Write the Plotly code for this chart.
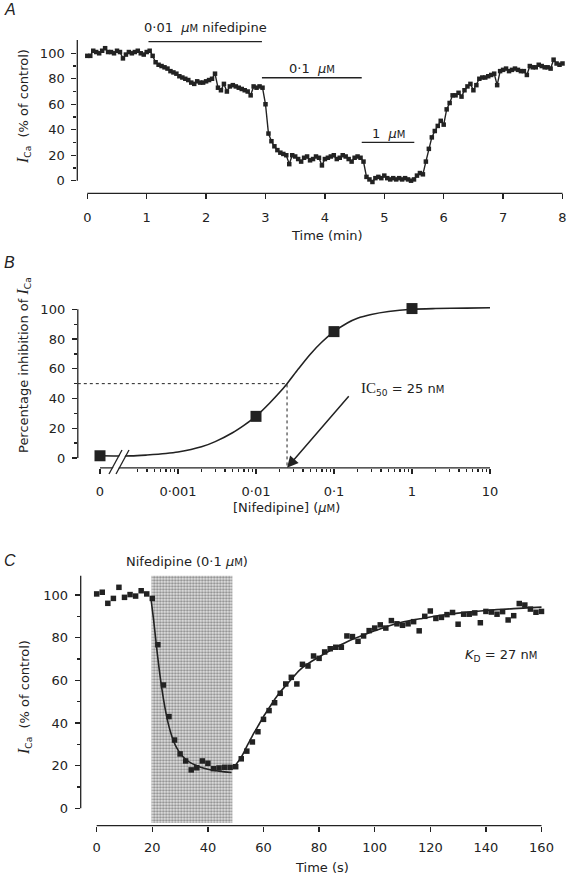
import math
import plotly.graph_objects as go

W, H = 567, 876
INK = "#222222"
FONT = "DejaVu Sans"
SMALLM = "<span style='font-size:10px'>M</span>"
MU = "<i>µ</i>" + SMALLM

# ---------------- Panel A data ----------------
a_time = [
    0.00, 0.05, 0.10, 0.15, 0.20, 0.25, 0.30, 0.35, 0.40, 0.45, 0.50, 0.55, 0.60, 0.65, 0.70, 0.75, 0.80, 0.85, 0.90, 0.95,
    1.00, 1.05, 1.10, 1.15, 1.20, 1.25, 1.30, 1.35, 1.40, 1.45, 1.50, 1.55, 1.60, 1.65, 1.70, 1.75, 1.80, 1.85, 1.90, 1.95,
    2.00, 2.05, 2.10, 2.15, 2.20, 2.25, 2.30, 2.35, 2.40, 2.45, 2.50, 2.55, 2.60, 2.65, 2.70, 2.75, 2.80, 2.85, 2.90, 2.95,
    3.00, 3.05, 3.10, 3.15, 3.20, 3.25, 3.30, 3.35, 3.40, 3.45, 3.50, 3.55, 3.60, 3.65, 3.70, 3.75, 3.80, 3.85, 3.90, 3.95,
    4.00, 4.05, 4.10, 4.15, 4.20, 4.25, 4.30, 4.35, 4.40, 4.45, 4.50, 4.55, 4.60, 4.65, 4.70, 4.75, 4.80, 4.85, 4.90, 4.95,
    5.00, 5.05, 5.10, 5.15, 5.20, 5.25, 5.30, 5.35, 5.40, 5.45, 5.50, 5.55, 5.60, 5.65, 5.70, 5.75, 5.80, 5.85, 5.90, 5.95,
    6.00, 6.05, 6.10, 6.15, 6.20, 6.25, 6.30, 6.35, 6.40, 6.45, 6.50, 6.55, 6.60, 6.65, 6.70, 6.75, 6.80, 6.85, 6.90, 6.95,
    7.00, 7.05, 7.10, 7.15, 7.20, 7.25, 7.30, 7.35, 7.40, 7.45, 7.50, 7.55, 7.60, 7.65, 7.70, 7.75, 7.80, 7.85, 7.90, 7.95,
    8.00,
]
a_ica = [
    98, 98, 102, 101, 100, 102, 104, 101, 101, 100, 102, 101, 96, 99, 101, 100, 101, 102, 100, 99,
    101, 102, 98, 93, 91, 90, 89, 88, 86, 85, 84, 82, 81, 80, 79, 77, 76, 78, 77, 77,
    78, 79, 80, 84, 73, 71, 76, 70, 74, 75, 74, 73, 72, 71, 70, 67, 74, 73, 74, 73,
    60, 37, 31, 27, 24, 22, 21, 20, 13, 20, 19, 17, 15, 18, 19, 16, 17, 19, 18, 12,
    17, 18, 19, 20, 17, 18, 20, 19, 17, 15, 18, 19, 18, 15, 3, 1, -1, 2, 3, 2,
    4, 2, 1, 2, 1, 2, 1, 2, 1, 0, 1, 4, 6, 5, 15, 25, 34, 39, 43, 47,
    44, 56, 61, 67, 67, 69, 66, 71, 74, 76, 71, 75, 80, 81, 81, 82, 83, 84, 75, 86,
    87, 88, 86, 87, 88, 87, 86, 86, 83, 90, 89, 89, 91, 90, 89, 89, 88, 95, 92, 91,
    92,
]
a_bar_start = [1.03, 2.94, 4.62]
a_bar_end = [2.94, 4.62, 5.505]
a_bar_level = [109.1, 80.8, 30.1]
a_bar_text = ["0·01  " + MU + " nifedipine", "0·1  " + MU, "1  " + MU]
a_bar_label_shift = [14, 9, 8]
a_xticks = [0, 1, 2, 3, 4, 5, 6, 7, 8]
a_yticks = [0, 20, 40, 60, 80, 100]
a_yminor = [10, 30, 50, 70, 90]

# ---------------- Panel B data ----------------
b_conc = [1e-4, 0.01, 0.1, 1.0]          # first point is the control ("0"), drawn at the break
b_inhib = [1.5, 28, 85, 100.5]
b_fit_conc = [1e-4, 2.5e-4, 4e-4, 7e-4, 1e-3, 2e-3, 3e-3, 5e-3, 7e-3, 0.01, 0.015, 0.02, 0.025,
              0.035, 0.05, 0.07, 0.1, 0.15, 0.2, 0.3, 0.5, 1, 2, 5, 10]
b_fit_inhib = [1.5, 1.4, 2.0, 3.0, 4.0, 7.5, 11, 17, 22, 28, 37, 44, 50,
               60, 70, 78, 85, 91, 94, 96.5, 98.5, 100, 100.5, 100.8, 101]
b_ic50 = 0.025
b_xtickvals = [1e-4, 1e-3, 1e-2, 1e-1, 1, 10]
b_xticktext = ["0", "0·001", "0·01", "0·1", "1", "10"]
b_xminor = [k * 10 ** e for e in (-4, -3, -2, -1, 0) for k in range(2, 10) if not (e == -4 and k < 3)]
b_yticks = [0, 20, 40, 60, 80, 100]
b_yminor = [10, 30, 50, 70, 90]

# ---------------- Panel C data ----------------
c_time = [0, 2, 4, 6, 8, 10, 12, 14, 16, 18, 20, 22, 24, 26, 28, 30, 32, 34, 36, 38,
          40, 42, 44, 46, 48, 50, 52, 54, 56, 58, 60, 62, 64, 66, 68, 70, 72, 74, 76, 78,
          80, 82, 84, 86, 88, 90, 92, 94, 96, 98, 100, 102, 104, 106, 108, 110, 112, 114, 116, 118,
          120, 122, 124, 126, 128, 130, 132, 134, 136, 138, 140, 142, 144, 146, 148, 150, 152, 154, 156, 158,
          160]
c_ica = [100.5, 101.3, 96.1, 98.4, 103.6, 98.9, 100.2, 99.5, 102, 100.5,
         98.4, 76.7, 57.8, 43, 32, 25.5, 22.2, 18, 19, 22.2,
         21.1, 18.6, 18.9, 19.2, 19.2, 19.5, 23.2, 26.8, 31.1, 35.9,
         41.7, 45.8, 49.5, 53.9, 58.3, 61.4, 58.3, 67.5, 66.7, 71.4,
         70.3, 73.3, 74.8, 75.5, 75.5, 80.8, 80.5, 78.3, 80.8, 83.3,
         84.5, 86, 84.5, 88, 86.5, 85.8, 86.5, 87.5, 83.2, 90,
         92.5, 89, 89.5, 90.8, 91.8, 86.3, 91, 91, 91.6, 87,
         92.3, 92, 91, 92.2, 88.3, 90.3, 96, 95.3, 93.4, 91.9, 92.3]
c_fit_on_t = [19.5, 20.5, 21.5, 22.5, 23.5, 24.5, 25.5, 26.5, 27.5, 28.5, 30, 32, 34, 36, 38, 40, 42, 44, 46, 48.5]
c_fit_on_v = [98.5, 88, 76, 65, 55.5, 47.5, 41, 36, 32, 29, 25.8, 23, 21.2, 20, 19, 18.3, 17.8, 17.4, 17.1, 16.8]
c_fit_off_t = [49.5, 52, 54, 56, 58, 60, 62, 64, 66, 68, 70, 73, 76, 80, 84, 88, 92, 96, 100, 105, 110,
               117, 124, 130, 140, 150, 160]
c_fit_off_v = [19.5, 24, 29, 34, 38.5, 43, 47, 51, 54.5, 57.5, 60.5, 64.8, 67.8, 71, 74, 76.8, 79.3, 81.3,
               83.2, 85.5, 87.3, 89, 90.5, 91.5, 92.7, 93.6, 94.3]
c_drug_on, c_drug_off = 19.7, 48.8
c_xticks = [0, 20, 40, 60, 80, 100, 120, 140, 160]
c_yticks = [0, 20, 40, 60, 80, 100]
c_yminor = [10, 30, 50, 70, 90]


# ---------------- geometry helpers (pixels -> paper) ----------------
def pxx(px):
    return px / W


def pxy(py):
    return 1 - py / H


# Panel A frame
A_LEFT, A_RIGHT, A_BOTTOM, A_TOP = 77.3, 566.0, 193.3, 38.0
A_X0, A_XS, A_Y0, A_YS = 87.3, 59.4, 180.7, 1.274
a_xrange = [(A_LEFT - A_X0) / A_XS, (A_RIGHT - A_X0) / A_XS]
a_yrange = [(A_Y0 - A_BOTTOM) / A_YS, (A_Y0 - A_TOP) / A_YS]

# Panel B frame (log x)
B_LEFT, B_RIGHT, B_BOTTOM, B_TOP = 77.8, 566.0, 467.8, 298.0
B_X0, B_XS, B_Y0, B_YS = 100.0, 78.0, 458.0, 1.487
b_xrange = [-4 + (B_LEFT - B_X0) / B_XS, -4 + (B_RIGHT - B_X0) / B_XS]
b_yrange = [(B_Y0 - B_BOTTOM) / B_YS, (B_Y0 - B_TOP) / B_YS]

# Panel C frame
C_LEFT, C_RIGHT, C_BOTTOM, C_TOP = 80.7, 566.0, 825.7, 570.0
C_X0, C_XS, C_Y0, C_YS = 96.7, 2.78, 808.3, 2.133
c_xrange = [(C_LEFT - C_X0) / C_XS, (C_RIGHT - C_X0) / C_XS]
c_yrange = [(C_Y0 - C_BOTTOM) / C_YS, (C_Y0 - C_TOP) / C_YS]

fig = go.Figure()

# ---- Panel A traces ----
fig.add_trace(go.Scatter(x=a_time, y=a_ica, mode="lines+markers", xaxis="x", yaxis="y",
                         line=dict(color=INK, width=1.4),
                         marker=dict(symbol="square", size=4.5, color=INK),
                         cliponaxis=False, hoverinfo="skip"))
for s, e, lv in zip(a_bar_start, a_bar_end, a_bar_level):
    fig.add_trace(go.Scatter(x=[s, e], y=[lv, lv], mode="lines", xaxis="x", yaxis="y",
                             line=dict(color=INK, width=1.3), hoverinfo="skip"))

# ---- Panel B traces ----
fig.add_trace(go.Scatter(x=[10 ** b_xrange[0], b_ic50, b_ic50], y=[50, 50, b_yrange[0]],
                         mode="lines", xaxis="x2", yaxis="y2",
                         line=dict(color=INK, width=1, dash="dot"), hoverinfo="skip"))
fig.add_trace(go.Scatter(x=b_fit_conc, y=b_fit_inhib, mode="lines", xaxis="x2", yaxis="y2",
                         line=dict(color=INK, width=1.6, shape="spline", smoothing=0.8), hoverinfo="skip"))
fig.add_trace(go.Scatter(x=b_conc, y=b_inhib, mode="markers", xaxis="x2", yaxis="y2",
                         marker=dict(symbol="square", size=11, color=INK),
                         cliponaxis=False, hoverinfo="skip"))

# ---- Panel C traces ----
fig.add_trace(go.Bar(x=[(c_drug_on + c_drug_off) / 2], y=[109 + 6.9], base=[-6.9],
                     width=[c_drug_off - c_drug_on], xaxis="x3", yaxis="y3",
                     marker=dict(color="#e4e4e4", line=dict(width=0),
                                 pattern=dict(shape=".", fgcolor="#8a8a8a", bgcolor="#e4e4e4",
                                              size=3, solidity=0.45, fillmode="replace")),
                     hoverinfo="skip"))
fig.add_trace(go.Scatter(x=c_fit_on_t, y=c_fit_on_v, mode="lines", xaxis="x3", yaxis="y3",
                         line=dict(color=INK, width=1.6, shape="spline", smoothing=0.8), hoverinfo="skip"))
fig.add_trace(go.Scatter(x=c_fit_off_t, y=c_fit_off_v, mode="lines", xaxis="x3", yaxis="y3",
                         line=dict(color=INK, width=1.6, shape="spline", smoothing=0.8), hoverinfo="skip"))
fig.add_trace(go.Scatter(x=c_time, y=c_ica, mode="markers", xaxis="x3", yaxis="y3",
                         marker=dict(symbol="square", size=5.5, color=INK),
                         cliponaxis=False, hoverinfo="skip"))

# invisible anchors so the minor-tick overlay axes get drawn
for xa, ya in (("x", "y4"), ("x4", "y2"), ("x2", "y5"), ("x3", "y6")):
    fig.add_trace(go.Scatter(x=[None], y=[None], mode="markers", xaxis=xa, yaxis=ya,
                             hoverinfo="skip", showlegend=False))

tickfont = dict(family=FONT, size=13, color=INK)


def ax(**kw):
    base = dict(showgrid=False, zeroline=False, showline=False, ticks="outside",
                ticklen=5, tickwidth=1.3, tickcolor=INK, tickfont=tickfont,
                tickmode="array", fixedrange=True)
    base.update(kw)
    return base


def minor_ax(overlay, rng, vals, anchor, side, typ="linear"):
    return dict(overlaying=overlay, range=rng, type=typ, anchor=anchor, side=side,
                tickmode="array", tickvals=vals, ticks="outside", ticklen=3, tickwidth=1.3,
                tickcolor=INK, showticklabels=False, showgrid=False, zeroline=False,
                showline=False, fixedrange=True)


layout = dict(
    width=W, height=H, margin=dict(l=0, r=0, t=0, b=0),
    paper_bgcolor="white", plot_bgcolor="rgba(0,0,0,0)", showlegend=False,
    font=dict(family=FONT, size=13, color=INK),
    xaxis=ax(domain=[pxx(A_LEFT), pxx(A_RIGHT)], range=a_xrange, anchor="y",
             tickvals=a_xticks, ticklen=5, ticklabelstandoff=7),
    yaxis=ax(domain=[pxy(A_BOTTOM), pxy(A_TOP)], range=a_yrange, anchor="x",
             tickvals=a_yticks, ticklabelstandoff=4),
    xaxis2=ax(type="log", domain=[pxx(B_LEFT), pxx(B_RIGHT)], range=b_xrange, anchor="y2",
              tickvals=b_xtickvals, ticktext=b_xticktext, ticklen=5, ticklabelstandoff=7),
    yaxis2=ax(domain=[pxy(B_BOTTOM), pxy(B_TOP)], range=b_yrange, anchor="x2",
              tickvals=b_yticks, ticklabelstandoff=4),
    xaxis3=ax(domain=[pxx(C_LEFT), pxx(C_RIGHT)], range=c_xrange, anchor="y3",
              tickvals=c_xticks, ticklen=5, ticklabelstandoff=5),
    yaxis3=ax(domain=[pxy(C_BOTTOM), pxy(C_TOP)], range=c_yrange, anchor="x3",
              tickvals=c_yticks, ticklabelstandoff=4),
    # minor tick overlays
    yaxis4=minor_ax("y", a_yrange, a_yminor, "x", "left"),
    xaxis4=minor_ax("x2", b_xrange, b_xminor, "y2", "bottom", typ="log"),
    yaxis5=minor_ax("y2", b_yrange, b_yminor, "x2", "left"),
    yaxis6=minor_ax("y3", c_yrange, c_yminor, "x3", "left"),
)

axline = dict(color=INK, width=1.3)
shapes = [
    # Panel A axis lines (detached)
    dict(type="line", xref="x", yref="y domain", x0=0, x1=8, y0=0, y1=0, line=axline),
    dict(type="line", xref="x domain", yref="y", x0=0, x1=0, y0=0, y1=110.4, line=axline),
    # Panel B axis lines
    dict(type="line", xref="x2", yref="y2 domain", x0=1e-4, x1=10, y0=0, y1=0, line=axline),
    dict(type="line", xref="x2 domain", yref="y2", x0=0, x1=0, y0=0, y1=100, line=axline),
    # Panel C axis lines
    dict(type="line", xref="x3", yref="y3 domain", x0=0, x1=160, y0=0, y1=0, line=axline),
    dict(type="line", xref="x3 domain", yref="y3", x0=0, x1=0, y0=0, y1=109, line=axline),
]

# Axis break in panel B (white gap + two slashes), in pixel -> paper coordinates
brk = [(109, 474, 122, 450), (116, 474, 129, 450)]
gap_path = "M {} {} L {} {} L {} {} L {} {} Z".format(
    pxx(brk[0][0] + 0.8), pxy(brk[0][1]), pxx(brk[0][2] + 0.8), pxy(brk[0][3]),
    pxx(brk[1][2] - 0.8), pxy(brk[1][3]), pxx(brk[1][0] - 0.8), pxy(brk[1][1]))
shapes.append(dict(type="path", xref="paper", yref="paper", path=gap_path,
                   fillcolor="white", line=dict(width=0), layer="above"))
for x0, y0, x1, y1 in brk:
    shapes.append(dict(type="line", xref="paper", yref="paper", x0=pxx(x0), y0=pxy(y0),
                       x1=pxx(x1), y1=pxy(y1), line=dict(color=INK, width=1.3), layer="above"))

layout["shapes"] = shapes


def note(text, x, y, size=13, angle=0, xanchor="center", family=FONT):
    return dict(text=text, x=pxx(x), y=pxy(y), xref="paper", yref="paper", showarrow=False,
                xanchor=xanchor, yanchor="middle", textangle=angle,
                font=dict(family=family, size=size, color=INK))


ICA = "<span style='font-family:Liberation Serif;font-size:16px'><i>I</i></span><sub>Ca</sub>"
annotations = [
    note("<i>A</i>", 1.5, 10, size=16, xanchor="left", family="Liberation Sans"),
    note("<i>B</i>", 1.5, 262, size=16, xanchor="left", family="Liberation Sans"),
    note("<i>C</i>", 1.5, 560, size=16, xanchor="left", family="Liberation Sans"),
    note("Time (min)", 327, 235),
    note(ICA + "  (% of control)", 23, 107, angle=-90),
    note("[Nifedipine] (" + MU + ")", 286, 507),
    note("Percentage inhibition of " + ICA, 23, 365, angle=-90),
    note("<span style='font-family:Liberation Serif;font-size:15px'>IC</span><sub>50</sub> = 25 n" + SMALLM,
         402, 389),
    note("Nifedipine (0·1 " + MU + ")", 187, 561),
    note(ICA + "  (% of control)", 24, 698, angle=-90),
    note("Time (s)", 322, 867),
    note("<i>K</i><sub>D</sub> = 27 n" + SMALLM, 501, 655),
]
for s, e, lv, txt, sh in zip(a_bar_start, a_bar_end, a_bar_level, a_bar_text, a_bar_label_shift):
    annotations.append(dict(text=txt, x=(s + e) / 2, y=lv, xref="x", yref="y", showarrow=False,
                            xanchor="center", yanchor="bottom", yshift=sh - 9,
                            font=dict(family=FONT, size=13, color=INK)))
# IC50 arrow
annotations.append(dict(text="", x=math.log10(b_ic50), y=b_yrange[0], xref="x2", yref="y2",
                        showarrow=True, ax=63, ay=-73, axref="pixel", ayref="pixel",
                        arrowhead=2, arrowsize=1.5, arrowwidth=1.5, arrowcolor=INK, standoff=0))
layout["annotations"] = annotations

fig.update_layout(**layout)
fig.write_html("out.html", config={"displayModeBar": False, "staticPlot": True},
               post_script="document.body.style.margin='0px';document.body.style.padding='0px';")
